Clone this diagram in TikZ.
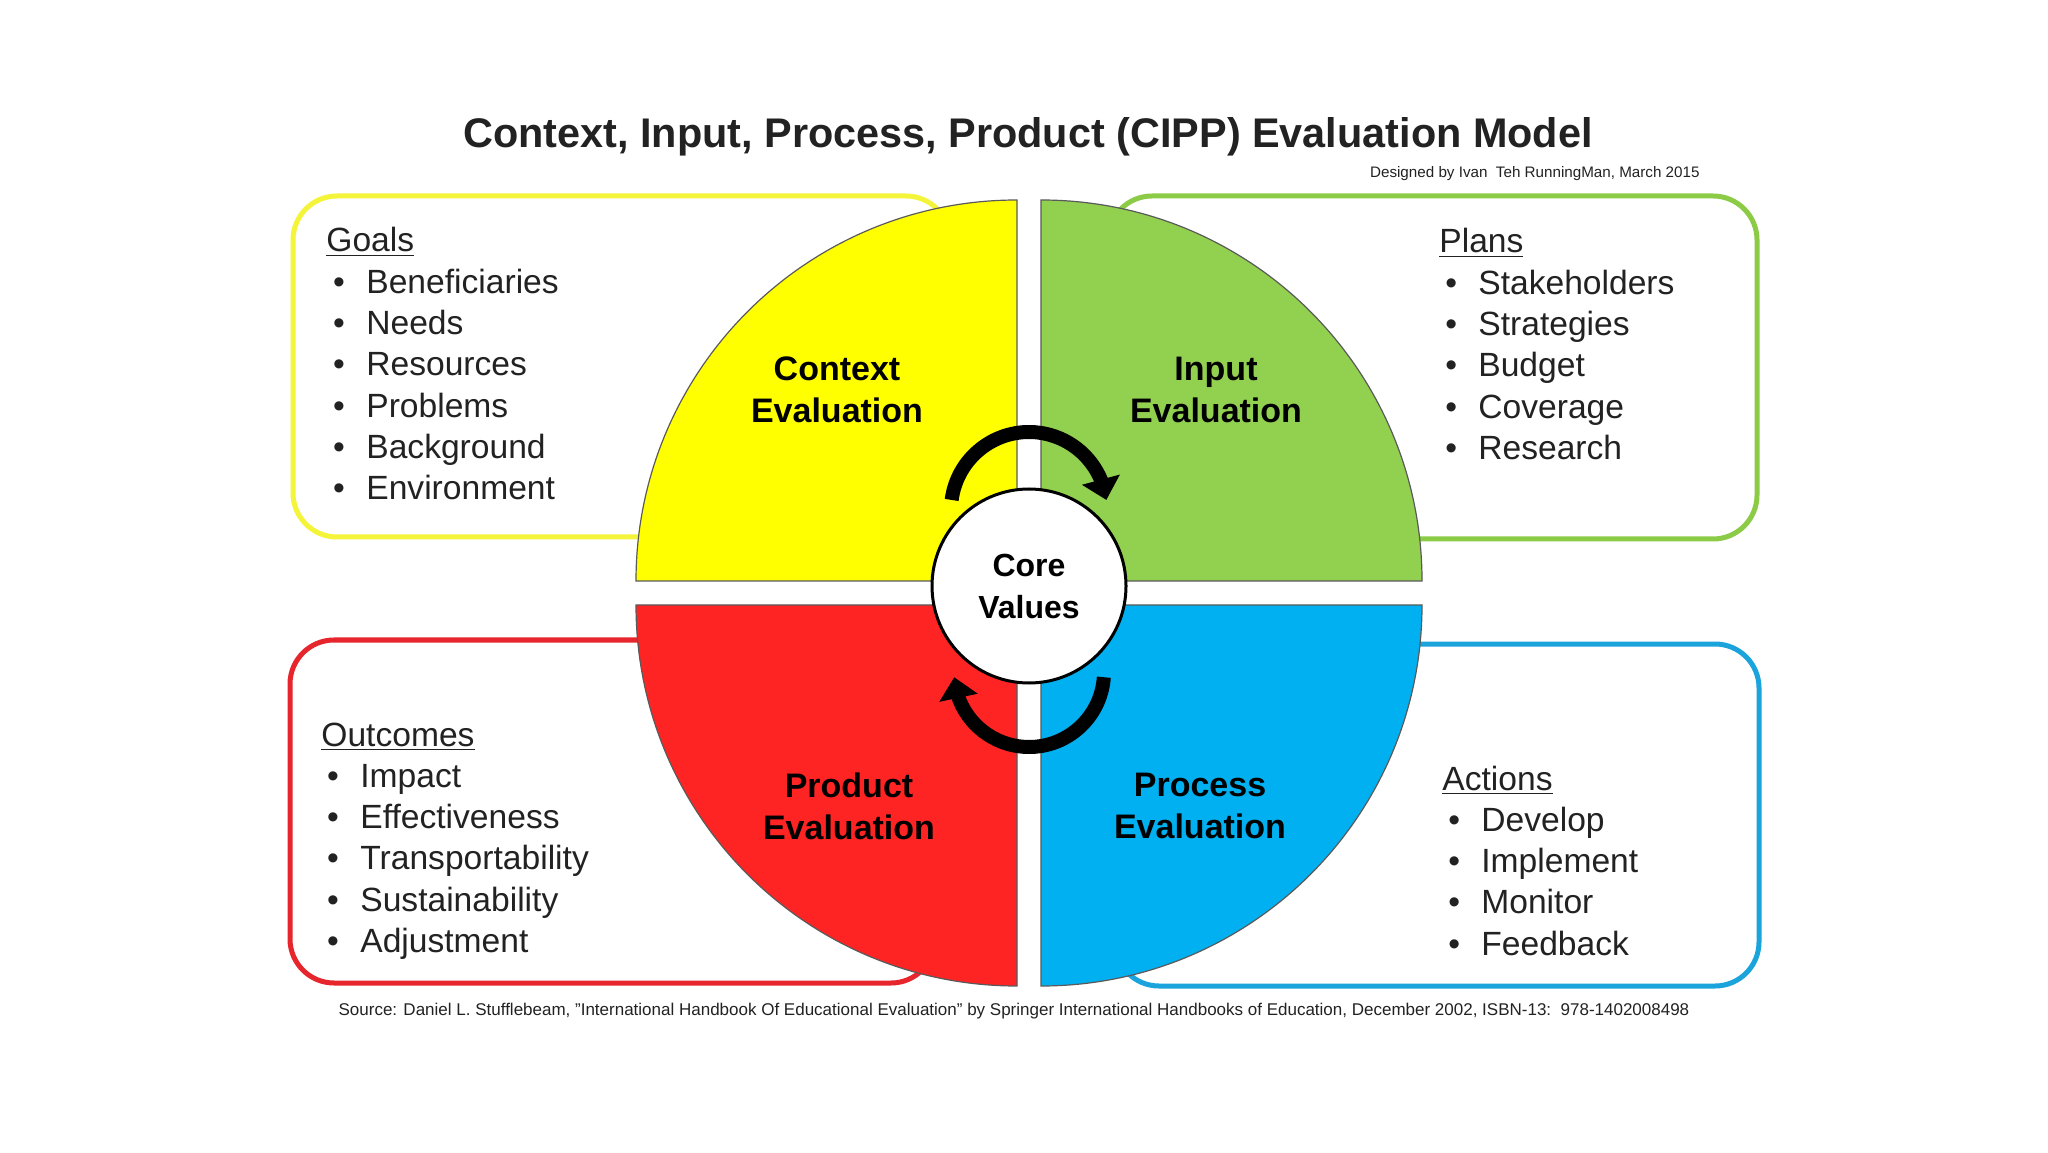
\documentclass[tikz,border=0pt]{standalone}
\usepackage{fontspec}
\setmainfont{Liberation Sans}
\usepackage{xcolor}
\usetikzlibrary{arrows.meta,bending}
\definecolor{QYellow}{HTML}{FFFF00}
\definecolor{QGreen}{HTML}{92D050}
\definecolor{QRed}{HTML}{FF2424}
\definecolor{QBlue}{HTML}{00B0F0}
\definecolor{BYellow}{HTML}{F4F43A}
\definecolor{BGreen}{HTML}{8CCB45}
\definecolor{BRed}{HTML}{E6262C}
\definecolor{BBlue}{HTML}{1BA3DB}
\definecolor{QEdge}{HTML}{5A5A5A}
\definecolor{TGray}{HTML}{222222}

\begin{document}
\begin{tikzpicture}[
  x=0.5pt,y=0.5pt,
  listbox/.style={line width=2.5pt,rounded corners=22pt,fill=white},
  quad/.style={draw=QEdge,line width=0.6pt},
  item/.style={font=\fontsize{16.8}{20}\selectfont,text=TGray,inner sep=0pt,anchor=base west},
  qlabel/.style={font=\fontsize{17}{21}\selectfont\bfseries,align=center,inner sep=0pt},
  cyc/.style={line width=7pt,-{Triangle[width=19pt,length=10.5pt]}}
]
  \useasboundingbox (0,0) rectangle (2048,1152);
  \fill[white] (0,0) rectangle (2048,1152);
  % title
  \node[font=\fontsize{20.7}{24}\selectfont\bfseries,text=TGray] (title) at (1028,1015)
    {Context, Input, Process, Product (CIPP) Evaluation Model};
  \node[font=\fontsize{7.6}{8}\selectfont,text=TGray,anchor=east,inner sep=0pt] (credit) at (1700,978)
    {Designed by Ivan\ \ Teh RunningMan, March 2015};
  % boxes behind the quadrants
  \draw[listbox,draw=BYellow] (293,615) rectangle (950,956);
  \draw[listbox,draw=BGreen] (1108,613) rectangle (1757,956);
  \draw[listbox,draw=BRed] (290,169) rectangle (935,512);
  \draw[listbox,draw=BBlue] (1115,166) rectangle (1759,508);
  % quadrants
  \draw[quad,fill=QYellow] (1017,571) -- ++(-381,0) arc[start angle=180,end angle=90,radius=381] -- cycle;
  \draw[quad,fill=QGreen] (1041,571) -- ++(381,0) arc[start angle=0,end angle=90,radius=381] -- cycle;
  \draw[quad,fill=QRed] (1017,547) -- ++(-381,0) arc[start angle=180,end angle=270,radius=381] -- cycle;
  \draw[quad,fill=QBlue] (1041,547) -- ++(381,0) arc[start angle=0,end angle=-90,radius=381] -- cycle;
  % cycle arrows
  \coordinate (topL) at ({1029+78*cos(172.6)},{642+78*sin(172.6)});
  \coordinate (botR) at ({1029+75*cos(-4)},{480+75*sin(-4)});
  \draw[cyc] (topL) arc[start angle=172.6,end angle=7.4,radius=78];
  \draw[cyc] (botR) arc[start angle=-4,end angle=-176,radius=75];
  \node[circle,draw=black,line width=1.5pt,fill=white,minimum size=97pt,qlabel,font=\fontsize{16}{21}\selectfont\bfseries] (core) at (1029,566)
    {Core\\Values};
  % quadrant labels
  \node[qlabel] (context) at (837,762) {Context\\Evaluation};
  \node[qlabel] (input) at (1216,762) {Input\\Evaluation};
  \node[qlabel] (product) at (849,346) {Product\\Evaluation};
  \node[qlabel] (process) at (1200,346) {Process\\Evaluation};
  % lists
  \node[item] (goals) at (326,900) {\underline{Goals}};
  \foreach \t [count=\i] in {Beneficiaries,Needs,Resources,Problems,Background,Environment}
    {\node[item] (goal\i) at (366,900-41.3*\i) {\llap{\textbullet\hspace{10.7pt}}\t};}
  \node[item] (plans) at (1439,899) {\underline{Plans}};
  \foreach \t [count=\i] in {Stakeholders,Strategies,Budget,Coverage,Research}
    {\node[item] (plan\i) at (1478,899-41.3*\i) {\llap{\textbullet\hspace{10.7pt}}\t};}
  \node[item] (outcomes) at (321,406) {\underline{Outcomes}};
  \foreach \t [count=\i] in {Impact,Effectiveness,Transportability,Sustainability,Adjustment}
    {\node[item] (outcome\i) at (360,406-41.3*\i) {\llap{\textbullet\hspace{10.7pt}}\t};}
  \node[item] (actions) at (1442,362) {\underline{Actions}};
  \foreach \t [count=\i] in {Develop,Implement,Monitor,Feedback}
    {\node[item] (action\i) at (1481,362-41.3*\i) {\llap{\textbullet\hspace{10.7pt}}\t};}
  % source line
  \node[font=\fontsize{8.5}{9}\selectfont,text=TGray] (source) at (1014,141)
    {Source: Daniel L. Stufflebeam, "International Handbook Of Educational Evaluation" by Springer International Handbooks of Education, December 2002, ISBN-13:\ \ 978-1402008498};
\end{tikzpicture}
\end{document}
